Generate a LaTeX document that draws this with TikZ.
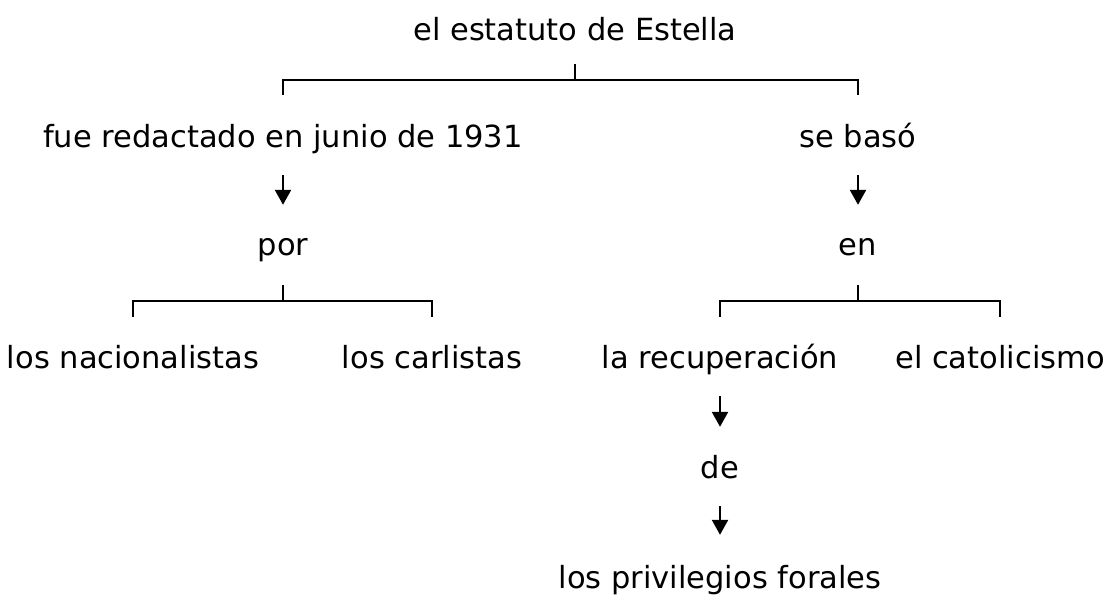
\documentclass[tikz,border=0pt]{standalone}
\usepackage{fontspec}
\setmainfont{DejaVu Sans}
\usetikzlibrary{arrows.meta}
\usetikzlibrary{positioning}
\tikzset{
  term/.style={anchor=base,inner sep=0pt,text height=24pt,text depth=7pt,font=\fontsize{30.5}{34}\selectfont},
  conn/.style={line width=2.4pt,color=black},
  arr/.style={conn,-{Triangle[width=16pt,length=15pt]}}
}
\begin{document}
\begin{tikzpicture}[line cap=butt,line join=miter,x=1pt,y=-1pt]
\useasboundingbox (0,0) rectangle (1105,598);
\node[term] (estatuto) at (575,40) {el estatuto de Estella};
\node[term] (redactado) at (283,147) {fue redactado en junio de 1931};
\node[term] (baso) at (858,147) {se basó};
\node[term] (por) at (283,255) {por};
\node[term] (en) at (858,255) {en};
\node[term] (nacionalistas) at (133,368) {los nacionalistas};
\node[term] (carlistas) at (432,368) {los carlistas};
\node[term] (recuperacion) at (720,368) {la recuperación};
\node[term] (catolicismo) at (1000,368) {el catolicismo};
\node[term] (de) at (720,478) {de};
\node[term] (privilegios) at (720,588) {los privilegios forales};
\coordinate (j1) at (575,80);
\coordinate (j2) at (283,301);
\coordinate (j3) at (858,301);
\draw[conn] ([yshift=-17pt]estatuto.south) -- (j1);
\draw[conn] ([yshift=28pt]redactado.north) |- (j1) -| ([yshift=28pt]baso.north);
\draw[arr] ([yshift=-21pt]redactado.south) -- ([yshift=26pt]por.north);
\draw[arr] ([yshift=-21pt]baso.south) -- ([yshift=26pt]en.north);
\draw[conn] ([yshift=-23pt]por.south) -- (j2);
\draw[conn] ([yshift=27pt]nacionalistas.north) |- (j2) -| ([yshift=27pt]carlistas.north);
\draw[conn] ([yshift=-23pt]en.south) -- (j3);
\draw[conn] ([yshift=27pt]recuperacion.north) |- (j3) -| ([yshift=27pt]catolicismo.north);
\draw[arr] ([yshift=-21pt]recuperacion.south) -- ([yshift=27pt]de.north);
\draw[arr] ([yshift=-21pt]de.south) -- ([yshift=29pt]privilegios.north);
\end{tikzpicture}
\end{document}
